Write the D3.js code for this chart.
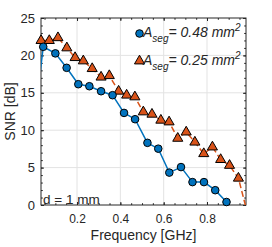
<!DOCTYPE html>
<html>
<head>
<meta charset="utf-8">
<script src="https://cdn.jsdelivr.net/npm/d3@7"></script>
<style>
  body { margin: 0; background: #fff; }
  text { font-family: "Liberation Sans", Arial, sans-serif; fill: #262626; }
</style>
</head>
<body>
<svg id="chart" width="272" height="247"></svg>
<script>

// A_seg = 0.48 mm^2 (first point sits left of the visible range)
var freq_a = [0.0, 0.044, 0.1, 0.152, 0.206, 0.257, 0.311, 0.364, 0.417, 0.468,
              0.525, 0.575, 0.626, 0.68, 0.733, 0.786, 0.838, 0.89];
var snr_a  = [10.4, 21.15, 20.27, 18.34, 16.15, 15.88, 15.21, 14.68, 12.31, 11.47,
              8.31, 7.53, 4.33, 5.07, 3.06, 3.06, 1.98, 0.4];

// A_seg = 0.25 mm^2 (last point runs off the right edge)
var freq_b = [0.034, 0.072, 0.112, 0.153, 0.191, 0.229, 0.27, 0.311, 0.349, 0.392,
              0.429, 0.467, 0.506, 0.546, 0.587, 0.625, 0.665, 0.704, 0.744, 0.785,
              0.825, 0.863, 0.904, 0.945, 0.985];
var snr_b  = [21.98, 21.98, 22.36, 21.0, 19.7, 19.26, 18.23, 17.09, 17.29, 15.21,
              14.68, 14.45, 12.44, 12.13, 11.33, 11.1, 8.91, 9.75, 8.4, 6.86,
              7.75, 6.07, 5.29, 3.58, -0.9];

var x_ticks = [0.2, 0.4, 0.6, 0.8];
var y_ticks = [0, 5, 10, 15, 20, 25];

var margin = { left: 41, top: 18, right: 26, bottom: 42 };
var width = 272 - margin.left - margin.right;
var height = 247 - margin.top - margin.bottom;

var svg = d3.select('#chart');

var x = d3.scaleLinear().domain([0.0337, 0.98]).range([0, width]);
var y = d3.scaleLinear().domain([0, 25]).range([height, 0]);

var g = svg.append('g')
    .attr('transform', 'translate(' + margin.left + ',' + margin.top + ')');

g.append('clipPath').attr('id', 'clip')
    .append('rect').attr('width', width).attr('height', height);

// grid
g.append('g').selectAll('line')
    .data(x_ticks)
    .enter().append('line')
    .attr('x1', function(d) { return x(d); })
    .attr('x2', function(d) { return x(d); })
    .attr('y1', 0).attr('y2', height)
    .attr('stroke', '#e3e3e3');

g.append('g').selectAll('line')
    .data(y_ticks.slice(1, -1))
    .enter().append('line')
    .attr('y1', function(d) { return y(d); })
    .attr('y2', function(d) { return y(d); })
    .attr('x1', 0).attr('x2', width)
    .attr('stroke', '#e3e3e3');

// minor ticks
var x_minor = d3.range(0.05, 0.98, 0.05);
var y_minor = d3.range(1, 25, 1);

function styleAxis(sel) {
    sel.select('.domain').remove();
    sel.selectAll('line').attr('stroke', '#262626');
    sel.selectAll('text')
        .style('font-family', '"Liberation Sans", Arial, sans-serif')
        .style('font-size', '12px')
        .attr('fill', '#262626');
}

var bottom = g.append('g')
    .attr('transform', 'translate(0,' + height + ')')
    .call(d3.axisBottom(x).tickValues(x_ticks).tickSize(-3).tickPadding(9)
        .tickFormat(d3.format('.1f')));
styleAxis(bottom);

g.append('g')
    .attr('transform', 'translate(0,' + height + ')')
    .call(d3.axisBottom(x).tickValues(x_minor).tickSize(-1.8).tickFormat(''))
    .call(styleAxis);

g.append('g')
    .call(d3.axisTop(x).tickValues(x_ticks).tickSize(-3).tickFormat(''))
    .call(styleAxis);
g.append('g')
    .call(d3.axisTop(x).tickValues(x_minor).tickSize(-1.8).tickFormat(''))
    .call(styleAxis);

var left = g.append('g')
    .call(d3.axisLeft(y).tickValues(y_ticks).tickSize(-3).tickPadding(6));
styleAxis(left);
left.selectAll('text').style('font-size', '13px');

g.append('g')
    .call(d3.axisLeft(y).tickValues(y_minor).tickSize(-1.8).tickFormat(''))
    .call(styleAxis);

g.append('g')
    .attr('transform', 'translate(' + width + ',0)')
    .call(d3.axisRight(y).tickValues(y_ticks).tickSize(-3).tickFormat(''))
    .call(styleAxis);
g.append('g')
    .attr('transform', 'translate(' + width + ',0)')
    .call(d3.axisRight(y).tickValues(y_minor).tickSize(-1.8).tickFormat(''))
    .call(styleAxis);

// box
g.append('rect')
    .attr('width', width).attr('height', height)
    .attr('fill', 'none').attr('stroke', '#262626').attr('stroke-width', 1);

// series
var data_a = freq_a.map(function(f, i) { return { f: f, v: snr_a[i] }; });
var data_b = freq_b.map(function(f, i) { return { f: f, v: snr_b[i] }; });

var line = d3.line()
    .x(function(d) { return x(d.f); })
    .y(function(d) { return y(d.v); });

function inside(d) {
    return d.f >= x.domain()[0] - 1e-9 && d.f <= x.domain()[1] && d.v >= 0 && d.v <= 25;
}

var blue = '#0072BD';
var orange = '#D95319';

g.append('path')
    .datum(data_b)
    .attr('clip-path', 'url(#clip)')
    .attr('d', line)
    .attr('fill', 'none')
    .attr('stroke', orange)
    .attr('stroke-width', 1.5)
    .attr('stroke-dasharray', '6,3');

g.append('g').selectAll('path')
    .data(data_b.filter(inside))
    .enter().append('path')
    .attr('d', d3.symbol(d3.symbolTriangle, 44))
    .attr('transform', function(d) { return 'translate(' + x(d.f) + ',' + y(d.v) + ')'; })
    .attr('fill', orange)
    .attr('stroke', '#000')
    .attr('stroke-width', 1);

g.append('path')
    .datum(data_a)
    .attr('clip-path', 'url(#clip)')
    .attr('d', line)
    .attr('fill', 'none')
    .attr('stroke', blue)
    .attr('stroke-width', 1.5);

g.append('g').selectAll('circle')
    .data(data_a.filter(inside))
    .enter().append('circle')
    .attr('cx', function(d) { return x(d.f); })
    .attr('cy', function(d) { return y(d.v); })
    .attr('r', 3.8)
    .attr('fill', blue)
    .attr('stroke', '#000')
    .attr('stroke-width', 1);

// legend
var legend_rows = [
    { label: '0.48', sym: 'circle', color: blue },
    { label: '0.25', sym: 'triangle', color: orange }
];

legend_rows.forEach(function(row, i) {
    var ly = 19 + i * 28;   // baseline, in plot coordinates
    var mx = 139.5 - margin.left;
    if (row.sym == 'circle') {
        g.append('circle')
            .attr('cx', mx).attr('cy', ly - 3.5).attr('r', 3.8)
            .attr('fill', row.color).attr('stroke', '#000');
    } else {
        g.append('path')
            .attr('d', d3.symbol(d3.symbolTriangle, 44))
            .attr('transform', 'translate(' + mx + ',' + (ly - 4) + ')')
            .attr('fill', row.color).attr('stroke', '#000');
    }
    var t = g.append('text')
        .attr('x', 143 - margin.left)
        .attr('y', ly)
        .style('font-size', '14px')
        .style('font-style', 'italic');
    t.append('tspan').text('A');
    t.append('tspan').attr('dy', 5).style('font-size', '10px').text('seg');
    t.append('tspan').attr('dy', -5).text('= ' + row.label + ' mm');
    t.append('tspan').attr('dy', -6).style('font-size', '10px').text('2');
});

// annotation
g.append('text')
    .attr('x', 2)
    .attr('y', height - 1.5)
    .style('font-size', '13.5px')
    .text('d = 1 mm');

// axis labels
svg.append('text')
    .attr('x', margin.left + width / 2)
    .attr('y', 240)
    .attr('text-anchor', 'middle')
    .style('font-size', '14px')
    .text('Frequency [GHz]');

svg.append('text')
    .attr('transform', 'translate(15,' + (margin.top + height / 2) + ') rotate(-90)')
    .attr('text-anchor', 'middle')
    .style('font-size', '14px')
    .text('SNR [dB]');

</script>
</body>
</html>
